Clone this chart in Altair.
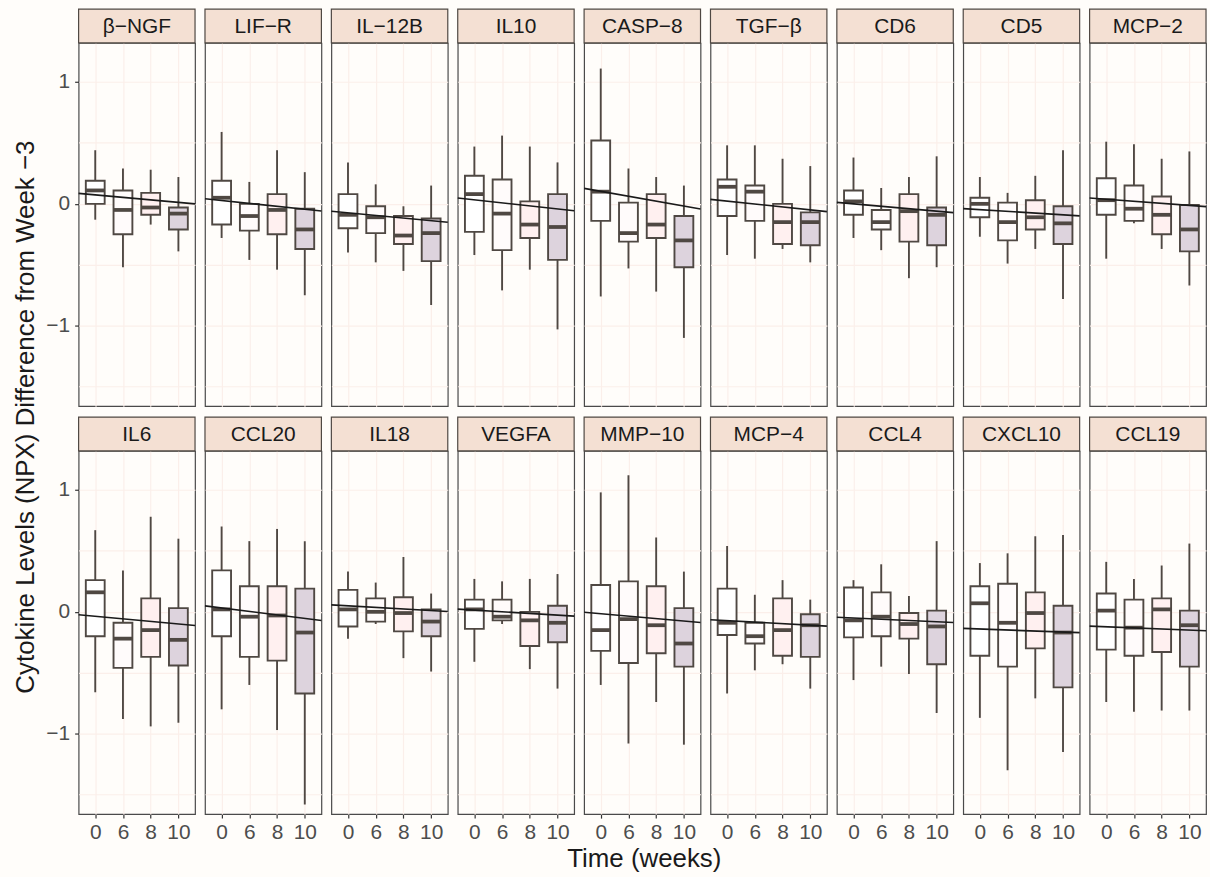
import altair as alt
import pandas as pd

cytokines = ["β−NGF", "LIF−R", "IL−12B", "IL10", "CASP−8", "TGF−β", "CD6", "CD5", "MCP−2",
             "IL6", "CCL20", "IL18", "VEGFA", "MMP−10", "MCP−4", "CCL4", "CXCL10", "CCL19"]
weeks = ["0", "6", "8", "10"]

whisker_hi = [
    [0.44, 0.29, 0.28, 0.22], [0.59, 0.18, 0.44, 0.26], [0.34, 0.16, -0.02, 0.15],
    [0.47, 0.56, 0.47, 0.34], [1.11, 0.29, 0.22, 0.15], [0.48, 0.48, 0.37, 0.31],
    [0.38, 0.13, 0.22, 0.39], [0.22, 0.09, 0.23, 0.44], [0.51, 0.49, 0.37, 0.43],
    [0.67, 0.34, 0.78, 0.60], [0.70, 0.58, 0.68, 0.58], [0.33, 0.24, 0.45, 0.15],
    [0.27, 0.25, 0.27, 0.31], [0.98, 1.12, 0.61, 0.33], [0.54, 0.14, 0.26, 0.10],
    [0.26, 0.39, 0.13, 0.58], [0.40, 0.48, 0.62, 0.63], [0.41, 0.27, 0.38, 0.56],
]
q3 = [
    [0.19, 0.11, 0.09, -0.03], [0.19, 0.00, 0.08, -0.04], [0.08, -0.02, -0.10, -0.12],
    [0.23, 0.20, 0.02, 0.08], [0.52, 0.01, 0.08, -0.10], [0.20, 0.15, 0.00, -0.07],
    [0.11, -0.05, 0.08, -0.03], [0.05, 0.01, 0.03, -0.02], [0.21, 0.15, 0.06, -0.01],
    [0.26, -0.09, 0.11, 0.03], [0.34, 0.21, 0.21, 0.19], [0.18, 0.11, 0.12, 0.02],
    [0.10, 0.10, 0.00, 0.05], [0.22, 0.25, 0.21, 0.03], [0.19, -0.09, 0.11, -0.02],
    [0.20, 0.16, -0.01, 0.01], [0.21, 0.23, 0.16, 0.05], [0.15, 0.10, 0.11, 0.01],
]
median = [
    [0.11, -0.05, -0.03, -0.08], [0.05, -0.10, -0.05, -0.21], [-0.09, -0.11, -0.26, -0.24],
    [0.08, -0.08, -0.17, -0.19], [0.10, -0.24, -0.17, -0.30], [0.14, 0.10, -0.15, -0.15],
    [0.02, -0.15, -0.06, -0.09], [0.00, -0.15, -0.11, -0.16], [0.03, -0.04, -0.09, -0.21],
    [0.16, -0.22, -0.15, -0.23], [0.02, -0.04, -0.03, -0.17], [0.02, 0.00, -0.01, -0.08],
    [0.02, -0.04, -0.07, -0.09], [-0.15, -0.06, -0.11, -0.26], [-0.09, -0.20, -0.15, -0.11],
    [-0.07, -0.04, -0.10, -0.12], [0.07, -0.09, -0.01, -0.17], [0.01, -0.13, 0.02, -0.11],
]
q1 = [
    [0.00, -0.25, -0.09, -0.21], [-0.17, -0.22, -0.25, -0.37], [-0.20, -0.24, -0.33, -0.47],
    [-0.23, -0.38, -0.28, -0.46], [-0.14, -0.31, -0.28, -0.52], [-0.10, -0.14, -0.33, -0.34],
    [-0.09, -0.21, -0.31, -0.34], [-0.11, -0.30, -0.21, -0.33], [-0.09, -0.14, -0.25, -0.39],
    [-0.20, -0.46, -0.37, -0.44], [-0.20, -0.37, -0.40, -0.67], [-0.12, -0.08, -0.16, -0.20],
    [-0.14, -0.07, -0.28, -0.25], [-0.32, -0.42, -0.34, -0.45], [-0.19, -0.26, -0.36, -0.37],
    [-0.21, -0.20, -0.22, -0.43], [-0.36, -0.45, -0.30, -0.62], [-0.31, -0.36, -0.33, -0.45],
]
whisker_lo = [
    [-0.13, -0.52, -0.17, -0.39], [-0.28, -0.46, -0.54, -0.75], [-0.40, -0.48, -0.55, -0.83],
    [-0.42, -0.71, -0.54, -1.03], [-0.76, -0.53, -0.72, -1.10], [-0.42, -0.45, -0.37, -0.48],
    [-0.28, -0.38, -0.61, -0.52], [-0.27, -0.49, -0.37, -0.78], [-0.45, -0.16, -0.37, -0.67],
    [-0.66, -0.88, -0.94, -0.91], [-0.80, -0.60, -0.97, -1.58], [-0.22, -0.10, -0.38, -0.49],
    [-0.41, -0.10, -0.47, -0.63], [-0.60, -1.08, -0.74, -1.09], [-0.67, -0.48, -0.43, -0.63],
    [-0.56, -0.45, -0.51, -0.83], [-0.87, -1.30, -0.71, -1.15], [-0.74, -0.82, -0.81, -0.81],
]
# linear trend, value at left and right panel edges
trend_start = [0.086, 0.042, -0.061, 0.048, 0.127, 0.037, 0.012, -0.039, 0.048,
               -0.024, 0.049, 0.057, 0.022, -0.003, -0.065, -0.044, -0.136, -0.117]
trend_end = [0.000, -0.059, -0.151, -0.056, -0.042, -0.064, -0.072, -0.099, -0.023,
             -0.112, -0.071, 0.003, -0.035, -0.087, -0.117, -0.087, -0.171, -0.155]

XT = "Time (weeks)"
YT = "Cytokine Levels (NPX) Difference from Week −3"

rows = []
for i, c in enumerate(cytokines):
    rows.append(dict(kind="strip", cytokine=c))
    for j, w in enumerate(weeks):
        rows.append(dict(kind="box", cytokine=c, pos=j + 1, week=w,
                         lo=whisker_lo[i][j], q1=q1[i][j], med=median[i][j],
                         q3=q3[i][j], hi=whisker_hi[i][j]))
    rows.append(dict(kind="line", cytokine=c, pos=0.4, val=trend_start[i]))
    rows.append(dict(kind="line", cytokine=c, pos=4.6, val=trend_end[i]))
df = pd.DataFrame(rows)

W, H = 117, 365
DARK = "#4f4843"
GRID = "#fbefea"
FONT = "Liberation Sans"
NCOL = 9


def make_panel(i):
    c = cytokines[i]
    row, col = divmod(i, NCOL)
    bottom = row == 1
    left = col == 0
    xaxis = alt.Axis(values=[1, 2, 3, 4], labelExpr="['0','6','8','10'][datum.value-1]",
                     grid=True, gridColor=GRID, gridWidth=1.2, title=None,
                     labels=bottom, ticks=bottom)
    yaxis = alt.Axis(values=[-1.5, -1, -0.5, 0, 0.5, 1],
                     labelExpr="abs(datum.value % 1) > 0.01 ? '' : format(datum.value, 'd')",
                     tickOpacity={"condition": {"test": "abs(datum.value % 1) > 0.01", "value": 0},
                                  "value": 1},
                     grid=True, gridColor=GRID, gridWidth=1.2, title=None,
                     labels=left, ticks=left)
    xs = alt.Scale(domain=[0.4, 4.6], nice=False, zero=False)
    ys = alt.Scale(domain=[-1.66, 1.32], nice=False, zero=False)

    def X(f):
        return alt.X(f"{f}:Q", scale=xs, axis=xaxis)

    def Y(f):
        return alt.Y(f"{f}:Q", scale=ys, axis=yaxis)

    box_base = alt.Chart().transform_filter("datum.kind == 'box'").transform_calculate(
        xl="datum.pos - 0.34", xr="datum.pos + 0.34")
    whisker = box_base.mark_rule(color=DARK, strokeWidth=1.9).encode(
        x=X("pos"), y=Y("lo"), y2="hi")
    boxes = box_base.mark_rect(stroke=DARK, strokeWidth=1.9).encode(
        x=X("xl"), x2="xr", y=Y("q1"), y2="q3",
        fill=alt.Fill("week:N", scale=alt.Scale(domain=weeks,
                                                range=["#ffffff", "#fffbfb", "#fff0f0", "#ddd3dd"]),
                      legend=None))
    medians = box_base.mark_rule(color=DARK, strokeWidth=3.8).encode(
        x=X("xl"), x2="xr", y=Y("med"))
    trend = alt.Chart().transform_filter("datum.kind == 'line'").mark_line(
        color="#1a1a1a", strokeWidth=1.6).encode(x=X("pos"), y=Y("val"))
    strips = alt.Chart().transform_filter("datum.kind == 'strip'")
    strip_rect = strips.mark_rect(fill="#f4e0d3", stroke=DARK, strokeWidth=1.2).encode(
        x=alt.value(0), x2=alt.value(W), y=alt.value(-34), y2=alt.value(0))
    strip_text = strips.mark_text(fontSize=21, font=FONT, color="#1a1a1a",
                                  baseline="middle").encode(
        text="cytokine:N", x=alt.value(W / 2), y=alt.value(-16))
    layers = [whisker, boxes, medians, trend, strip_rect, strip_text]
    if i == 0:
        layers.append(strips.mark_text(fontSize=26, font=FONT, color="#1a1a1a",
                                       baseline="middle", angle=270).encode(
            text=alt.value(YT), x=alt.value(-53), y=alt.value(H + 11)))
    if i == 13:
        layers.append(strips.mark_text(fontSize=26, font=FONT, color="#1a1a1a",
                                       baseline="middle").encode(
            text=alt.value(XT), x=alt.value(W / 2 + 2), y=alt.value(H + 45)))
    return alt.layer(*layers, data=df).transform_filter(
        alt.FieldEqualPredicate(field="cytokine", equal=c)).properties(width=W, height=H)


panels = [make_panel(i) for i in range(len(cytokines))]

chart = alt.ConcatChart(
    concat=panels, columns=NCOL, spacing={"row": 45, "column": 10}, bounds="flush"
).configure(
    background="#fffdfa", padding={"left": 12, "top": 5, "right": 0, "bottom": 4}
).configure_view(
    stroke="#4a4a4a", strokeWidth=1.2, fill="#fffdfa"
).configure_axis(
    domain=False, tickColor="#333333", tickSize=4, tickWidth=1.2,
    labelColor="#4d4d4d", labelFontSize=21, labelFont=FONT
).configure_axisX(labelPadding=3).configure_axisY(labelPadding=5)

chart.save("out.html", embed_options={"renderer": "svg", "actions": False})
